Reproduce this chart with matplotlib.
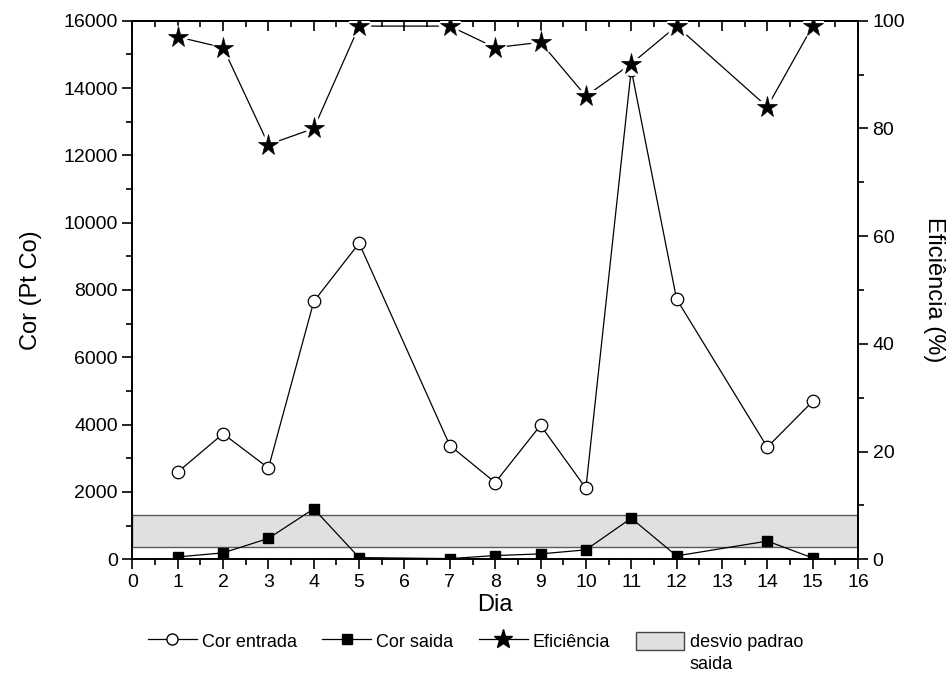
import matplotlib
matplotlib.use("Agg")
import matplotlib.pyplot as plt
from matplotlib.lines import Line2D
from matplotlib.patches import Patch
from matplotlib.ticker import MultipleLocator

plt.rcParams['font.family'] = ['Liberation Sans', 'DejaVu Sans']

# Monitoring days (no samples on days 6 and 13)
dias = [1, 2, 3, 4, 5, 7, 8, 9, 10, 11, 12, 14, 15]
cor_entrada = [2590, 3730, 2710, 7660, 9390, 3380, 2280, 3980, 2110, 14550, 7730, 3330, 4690]
cor_saida = [70, 190, 620, 1500, 50, 20, 110, 160, 280, 1220, 100, 540, 40]
eficiencia = [97, 95, 77, 80, 99, 99, 95, 96, 86, 92, 99, 84, 99]

# Standard-deviation band of the outlet colour
desvio_inf = 375
desvio_sup = 1325
faixa_x = [0, 16]

x_ticks = list(range(0, 17))
cor_ticks = list(range(0, 16001, 2000))
efic_ticks = list(range(0, 101, 20))

fig = plt.figure(figsize=(9.51, 6.77), dpi=100)
ax = fig.add_axes([0.1392, 0.1739, 0.7630, 0.7955])
ax2 = ax.twinx()

lw_axis = 1.2
tick_fs = 14
label_fs = 17

ax.fill_between(faixa_x, desvio_inf, desvio_sup, facecolor='#e0e0e0',
                edgecolor='#5a5a5a', linewidth=1.0, zorder=1)

ax.plot(dias, cor_entrada, color='black', linewidth=0.9, marker='o',
        markersize=9, markerfacecolor='white', markeredgecolor='black',
        markeredgewidth=0.9, zorder=3)
ax.plot(dias, cor_saida, color='black', linewidth=0.9, marker='s',
        markersize=7.5, markerfacecolor='black', markeredgecolor='black',
        zorder=3)

# Efficiency line with a small gap around each star
ax2.plot(dias, eficiencia, color='black', linewidth=0.9, zorder=2)
ax2.plot(dias, eficiencia, linestyle='none', marker='*', markersize=15.5,
         markerfacecolor='white', markeredgecolor='white',
         markeredgewidth=5, zorder=3)
ax2.plot(dias, eficiencia, linestyle='none', marker='*', markersize=15.5,
         markerfacecolor='black', markeredgecolor='black',
         markeredgewidth=0.5, zorder=4)

ax.set_xlim(0, 16)
ax.set_ylim(0, 16000)
ax2.set_ylim(0, 100)

ax.set_xticks(x_ticks)
ax.set_yticks(cor_ticks)
ax2.set_yticks(efic_ticks)
ax.xaxis.set_minor_locator(MultipleLocator(0.5))
ax.yaxis.set_minor_locator(MultipleLocator(1000))
ax2.yaxis.set_minor_locator(MultipleLocator(10))

for a in (ax, ax2):
    for s in a.spines.values():
        s.set_linewidth(lw_axis)

ax.tick_params(axis='both', which='major', direction='out', length=7.5,
               width=lw_axis, labelsize=tick_fs, pad=3)
ax.tick_params(axis='both', which='minor', direction='out', length=4,
               width=lw_axis)
ax2.tick_params(axis='y', which='major', direction='out', length=7.5,
                width=lw_axis, labelsize=tick_fs, pad=3)
ax2.tick_params(axis='y', which='minor', direction='out', length=4,
                width=lw_axis)

# Mirrored inward ticks along the top edge
top = ax.secondary_xaxis('top')
top.set_xticks(x_ticks)
top.xaxis.set_minor_locator(MultipleLocator(0.5))
top.tick_params(axis='x', which='major', direction='in', length=7.5,
                width=lw_axis, labeltop=False)
top.tick_params(axis='x', which='minor', direction='in', length=4,
                width=lw_axis)
top.spines['top'].set_linewidth(lw_axis)

ax.set_xlabel('Dia', fontsize=label_fs, labelpad=2)
ax.set_ylabel('Cor (Pt Co)', fontsize=label_fs, labelpad=15)
ax2.set_ylabel('Eficiência (%)', fontsize=label_fs, rotation=270, labelpad=29)

handles = [
    Line2D([], [], color='black', linewidth=0.9, marker='o', markersize=8,
           markerfacecolor='white', markeredgecolor='black'),
    Line2D([], [], color='black', linewidth=0.9, marker='s', markersize=6.5,
           markerfacecolor='black'),
    Line2D([], [], color='black', linewidth=0.9, marker='*', markersize=14,
           markerfacecolor='black'),
    Patch(facecolor='#e0e0e0', edgecolor='#444444', linewidth=1.0),
]
labels = ['Cor entrada', 'Cor saida', 'Eficiência', 'desvio padrao']
leg = fig.legend(handles, labels, loc='upper center',
                 bbox_to_anchor=(0.5, 0.067), ncol=4, frameon=False,
                 fontsize=13, handlelength=2.7, handleheight=1.15,
                 handletextpad=0.3, columnspacing=1.4, borderaxespad=0,
                 borderpad=0)

fig.canvas.draw()
bb = leg.get_texts()[-1].get_window_extent()
x0, y0 = fig.transFigure.inverted().transform((bb.x0, bb.y0))
fig.text(x0, y0 - 0.008, 'saida', fontsize=13, ha='left', va='top')

fig.savefig('out.png', dpi=100)
